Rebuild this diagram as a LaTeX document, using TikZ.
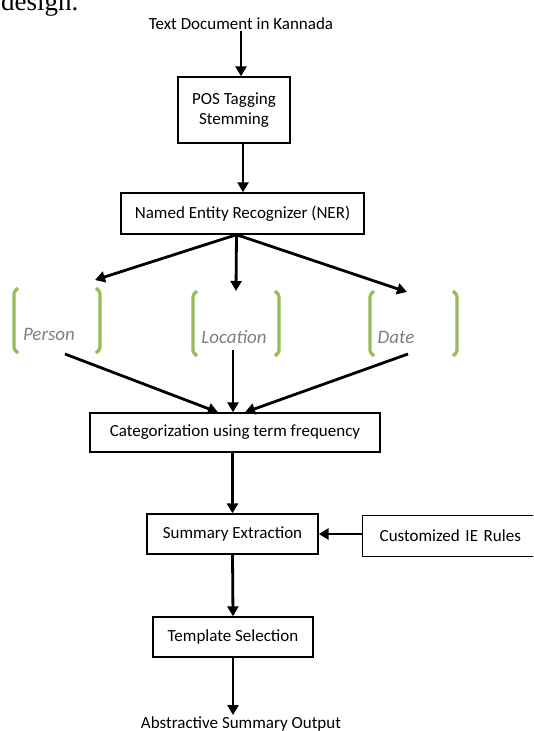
\documentclass[tikz,border=0pt]{standalone}
\usepackage{fontspec}
\setmainfont{Carlito}
\newfontfamily\designfont{Liberation Serif}
\usetikzlibrary{arrows.meta,calc}
\definecolor{brgreen}{HTML}{9BBB59}
\definecolor{entgray}{HTML}{808080}
\tikzset{
  stepbox/.style={draw=black, line width=1.4pt, font=\fontsize{17}{20}\selectfont, inner sep=0pt, align=center},
  plaintext/.style={font=\fontsize{17}{20}\selectfont, inner sep=1pt},
  arr/.style={line width=2.8pt, -{Triangle[length=10pt,width=11pt]}},
  brk/.style={draw=brgreen, line width=3.2pt, rounded corners=1.5pt},
  ent/.style={font=\fontsize{19}{22}\selectfont\itshape, text=entgray, inner sep=0pt}
}
\begin{document}
\begin{tikzpicture}[x=1pt,y=-1pt]
\clip (0,0) rectangle (533,731);
\fill[white] (0,0) rectangle (533,731);
% fragment of caption text
\node[anchor=base west, font=\designfont\fontsize{27}{30}\selectfont, inner sep=0pt] (design) at (1,10) {design.};
% nodes
\node[plaintext] (txt) at (241,24) {Text Document in Kannada};
\node[stepbox, minimum width=112pt, minimum height=66pt] (pos) at (234,110) {POS Tagging\\Stemming};
\node[stepbox, minimum width=243pt, minimum height=41pt] (ner) at (242.5,213.5) {Named Entity Recognizer (NER)};
\node[stepbox, minimum width=290pt, minimum height=39pt] (categ) at (235,432.5) {Categorization using term frequency};
\node[stepbox, minimum width=171pt, minimum height=40pt] (summ) at (232.5,534) {Summary Extraction};
\node[stepbox, minimum width=196pt, minimum height=41pt, anchor=west, text width=170pt, align=left, inner xsep=17pt] (rules) at (362,536) {Customized IE Rules};
\node[stepbox, minimum width=160pt, minimum height=40pt] (tmpl) at (233,637) {Template Selection};
\node[plaintext, anchor=north] (out) at (241,715) {Abstractive Summary Output};
% entities
\node[ent] (person) at (49,334) {Person};
\node[ent] (location) at (234,337) {Location};
\node[ent] (date) at (396,337) {Date};
% brackets
\draw[brk] (18,288) -- (14,292) -- (14,349) -- (18,353);
\draw[brk] (96,288) -- (100,292) -- (100,349) -- (96,353);
\draw[brk] (197,291) -- (193,295) -- (193,352) -- (197,356);
\draw[brk] (275,291) -- (279,295) -- (279,352) -- (275,356);
\draw[brk] (374,291) -- (370,295) -- (370,352) -- (374,356);
\draw[brk] (453,291) -- (457,295) -- (457,352) -- (453,356);
% coordinates for entity groups
\coordinate (pin) at (95,280);
\coordinate (lin) at (236,291);
\coordinate (din) at (407,292);
\coordinate (pout) at (65,354);
\coordinate (lout) at (233,350);
\coordinate (dout) at (408,354);
\coordinate (nerout) at ($(ner.south)+(-6,0)$);
% connectors
\draw[arr] (txt.south) -- (pos.north -| txt.south);
\draw[arr] ($(pos.south)+(9,0)$) -- ($(ner.north)+(0.5,0)$);
\draw[arr] (nerout) -- (pin);
\draw[arr] (nerout) -- (lin);
\draw[arr] (nerout) -- (din);
\draw[arr] (pout) -- ($(categ.north)+(-17,0)$);
\draw[arr] (lout) -- ($(categ.north)+(-2,0)$);
\draw[arr] (dout) -- ($(categ.north)+(10,0)$);
\draw[arr] (categ.south -| summ.north) -- (summ.north);
\draw[arr] (rules.west |- summ.east) -- (summ.east);
\draw[arr] (summ.south) -- (tmpl.north);
\draw[arr] (tmpl.south) -- (out.north -| tmpl.south);
\end{tikzpicture}
\end{document}
